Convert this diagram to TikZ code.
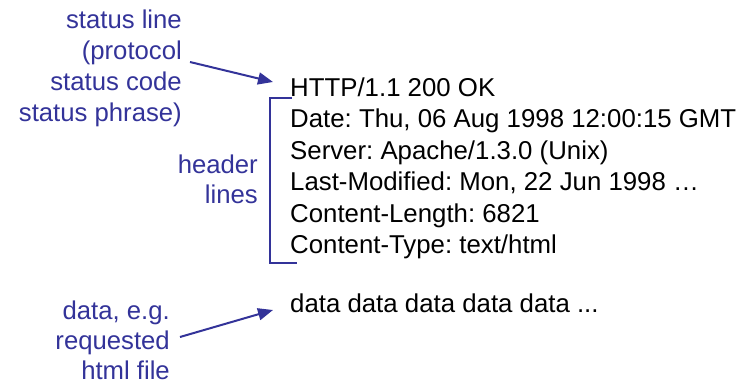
\documentclass[tikz,border=0pt]{standalone}
\usepackage{fontspec}
\setmainfont{Liberation Sans}
\usetikzlibrary{arrows.meta}
\definecolor{lblue}{RGB}{51,51,153}
\frenchspacing
\tikzset{
  lbl/.style={anchor=base east, inner sep=0pt, text=lblue, font=\fontsize{25.7}{30}\selectfont},
  msg/.style={anchor=base west, inner sep=0pt, text=black, font=\fontsize{25.8}{30}\selectfont},
  pointer/.style={draw=lblue, line width=2pt, -{Triangle[length=15pt,width=12pt]}},
  brace/.style={draw=lblue, line width=2pt}
}
\begin{document}
\begin{tikzpicture}[x=1pt,y=-1pt]
\useasboundingbox (0,0) rectangle (747,383);
% status line labels
\node[lbl] (s1) at (182,28) {status line};
\node[lbl] (s2) at (182,59) {(protocol};
\node[lbl] (s3) at (182,90) {status code};
\node[lbl] (s4) at (182,121) {status phrase)};
% header labels
\node[lbl] (h1) at (258,173) {header};
\node[lbl] (h2) at (258,203) {lines};
% data labels
\node[lbl] (d1) at (170,319) {data, e.g.};
\node[lbl] (d2) at (170,349) {requested};
\node[lbl] (d3) at (170,379) {html file};
% message
\node[msg] (m1) at (290,96) {HTTP/1.1 200 OK};
\node[msg] (m2) at (290,127.5) {Date: Thu, 06 Aug 1998 12:00:15 GMT};
\node[msg] (m3) at (290,159) {Server: Apache/1.3.0 (Unix)};
\node[msg] (m4) at (290,190.5) {Last-Modified: Mon, 22 Jun 1998 …};
\node[msg] (m5) at (290,222) {Content-Length: 6821};
\node[msg] (m6) at (290,253.5) {Content-Type: text/html};
\node[msg] (m7) at (290,312) {data data data data data ...};
% connectors
\coordinate (sa) at (190,62);
\coordinate (st) at (273,82);
\coordinate (da) at (180,337);
\coordinate (dt) at (273,310);
\draw[pointer] (sa) -- (st);
\draw[pointer] (da) -- (dt);
\coordinate (b1) at (292,98);
\coordinate (b2) at (270,98);
\coordinate (b3) at (270,263);
\coordinate (b4) at (297,263);
\draw[brace] (b1) -- (b2) -- (b3) -- (b4);
\end{tikzpicture}
\end{document}
